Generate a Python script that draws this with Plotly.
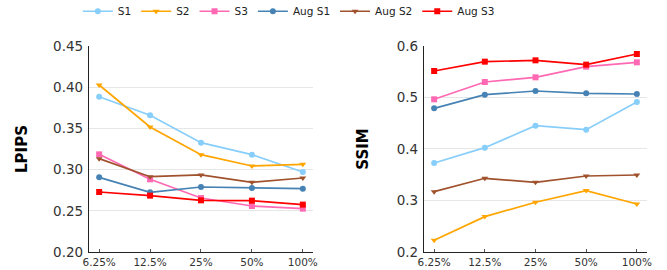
import plotly.graph_objects as go

categories = ["6.25%", "12.5%", "25%", "50%", "100%"]
series_names = ["S1", "S2", "S3", "Aug S1", "Aug S2", "Aug S3"]

lpips_s1 = [0.3885, 0.3659, 0.3327, 0.3181, 0.2971]
lpips_s2 = [0.4027, 0.3517, 0.3181, 0.3044, 0.3064]
lpips_s3 = [0.3185, 0.2882, 0.2655, 0.2558, 0.2526]
lpips_aug_s1 = [0.2906, 0.2724, 0.2789, 0.2777, 0.2769]
lpips_aug_s2 = [0.3133, 0.2914, 0.2935, 0.2846, 0.2898]
lpips_aug_s3 = [0.2728, 0.2684, 0.2627, 0.2623, 0.2575]

ssim_s1 = [0.3729, 0.4026, 0.4453, 0.4376, 0.4913]
ssim_s2 = [0.2228, 0.2687, 0.2966, 0.3192, 0.2933]
ssim_s3 = [0.4965, 0.5301, 0.5392, 0.5599, 0.5683]
ssim_aug_s1 = [0.4790, 0.5055, 0.5126, 0.5081, 0.5068]
ssim_aug_s2 = [0.3172, 0.3431, 0.3353, 0.3476, 0.3495]
ssim_aug_s3 = [0.5515, 0.5696, 0.5722, 0.5638, 0.5845]

lpips_ticks = [0.20, 0.25, 0.30, 0.35, 0.40, 0.45]
ssim_ticks = [0.2, 0.3, 0.4, 0.5, 0.6]

colors = ["#87CEFA", "#FFA500", "#FF69B4", "#4682B4", "#A0522D", "#FF0000"]
symbols = ["circle", "triangle-down", "square", "circle", "triangle-down", "square"]

lpips = [lpips_s1, lpips_s2, lpips_s3, lpips_aug_s1, lpips_aug_s2, lpips_aug_s3]
ssim = [ssim_s1, ssim_s2, ssim_s3, ssim_aug_s1, ssim_aug_s2, ssim_aug_s3]

fig = go.Figure()
for i, name in enumerate(series_names):
    fig.add_trace(go.Scatter(
        x=categories, y=lpips[i], name=name, mode="lines+markers",
        line=dict(color=colors[i], width=1.7),
        marker=dict(symbol=symbols[i], size=6, color=colors[i]),
        xaxis="x", yaxis="y", legendgroup=name, showlegend=True))
for i, name in enumerate(series_names):
    fig.add_trace(go.Scatter(
        x=categories, y=ssim[i], name=name, mode="lines+markers",
        line=dict(color=colors[i], width=1.7),
        marker=dict(symbol=symbols[i], size=6, color=colors[i]),
        xaxis="x2", yaxis="y2", legendgroup=name, showlegend=False))

font = "DejaVu Sans"
axis_common = dict(showline=True, linecolor="#222222", linewidth=1.2,
                   zeroline=False, automargin=False)
xcommon = dict(axis_common, showgrid=False, ticks="inside", ticklen=3,
               tickcolor="#555555", tickfont=dict(family=font, size=10.5, color="#333333"),
               range=[-0.2, 4.2], type="category")
ycommon = dict(axis_common, showgrid=True, gridcolor="#E6E6E6", gridwidth=1,
               ticks="outside", ticklen=2, tickcolor="white",
               tickfont=dict(family=font, size=13.5, color="#333333"))

fig.update_layout(
    width=667, height=270,
    margin=dict(l=0, r=0, t=0, b=0, autoexpand=False),
    paper_bgcolor="white", plot_bgcolor="white",
    font=dict(family=font, color="#222222"),
    xaxis=dict(xcommon, domain=[0.1334, 0.4693], anchor="y"),
    yaxis=dict(ycommon, domain=[0.0667, 0.8296], range=[0.20, 0.45],
               tickvals=lpips_ticks, ticktext=[f"{v:.2f}" for v in lpips_ticks],
               title=dict(text="<b>LPIPS</b>", font=dict(family=font, size=15, color="#000000"), standoff=21),
               anchor="x"),
    xaxis2=dict(xcommon, domain=[0.6357, 0.970], anchor="y2"),
    yaxis2=dict(ycommon, domain=[0.0667, 0.8296], range=[0.2, 0.6],
                tickvals=ssim_ticks, ticktext=[f"{v:.1f}" for v in ssim_ticks],
                title=dict(text="<b>SSIM</b>", font=dict(family=font, size=15, color="#000000"), standoff=24),
                anchor="x2"),
    legend=dict(orientation="h", x=0.433, xanchor="center", y=1.012, yanchor="top",
                font=dict(family=font, size=10.5, color="#222222"),
                itemwidth=30, tracegroupgap=0),
    showlegend=True,
)

fig.write_html("out.html", post_script="document.body.style.margin='0';",
               config={"displayModeBar": False})
